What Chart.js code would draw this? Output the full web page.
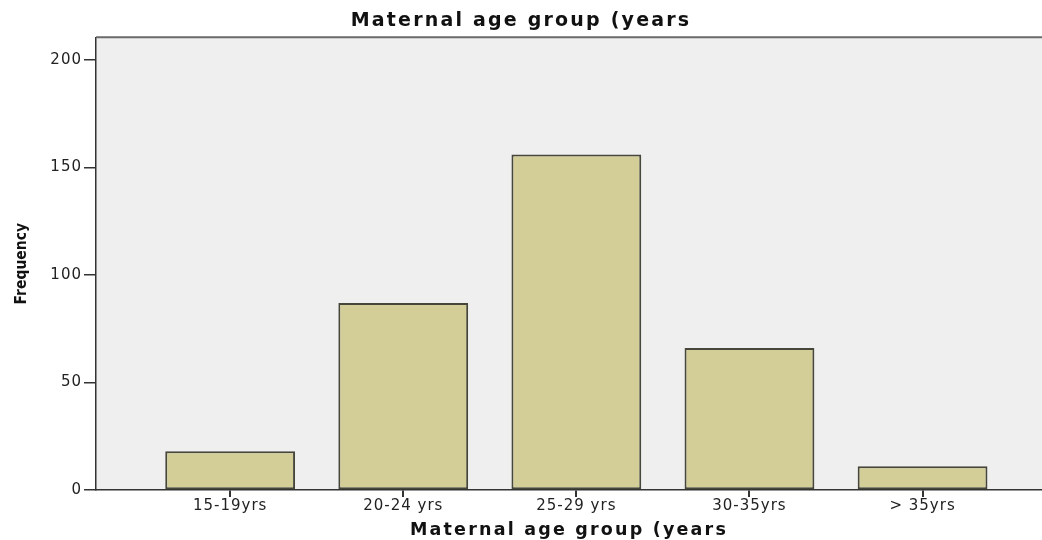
<!DOCTYPE html>
<html>
<head>
<meta charset="utf-8">
<script src="https://cdn.jsdelivr.net/npm/chart.js@4/dist/chart.umd.min.js"></script>
<style>
  html, body { margin: 0; padding: 0; background: #ffffff; }
  #wrap { width: 1042px; height: 540px; position: relative; }
</style>
</head>
<body>
<div id="wrap"><canvas id="c"></canvas></div>
<script>
// ---- data ----
const categories = ['15-19yrs', '20-24 yrs', '25-29 yrs', '30-35yrs', '> 35yrs'];
const frequency = [18, 87, 156, 66, 11];
const yTickValues = [0, 50, 100, 150, 200];
const chartTitle = 'Maternal age group (years';
const xTitle = 'Maternal age group (years';
const yTitle = 'Frequency';

// widen text a little (the reference text is horizontally stretched)
const spacing = {
  id: 'spacing',
  beforeDraw(chart) {
    const ctx = chart.ctx;
    if (!ctx.__patched) {
      const orig = ctx.fillText;
      ctx.fillText = function (t, x, y, mw) {
        const f = this.font || '';
        if (f.indexOf('Condensed') >= 0) this.letterSpacing = '0px';
        else if (f.indexOf('bold') >= 0) this.letterSpacing = '2.2px';
        else this.letterSpacing = '1px';
        return mw === undefined ? orig.call(this, t, x, y) : orig.call(this, t, x, y, mw);
      };
      ctx.__patched = true;
    }
  }
};

const plotBg = {
  id: 'plotBg',
  beforeDraw(chart) {
    const { ctx, chartArea: a } = chart;
    ctx.save();
    ctx.fillStyle = '#efefef';
    ctx.fillRect(a.left, a.top, a.right - a.left, a.bottom - a.top);
    ctx.restore();
  },
  afterDraw(chart) {
    const { ctx, chartArea: a } = chart;
    ctx.save();
    ctx.strokeStyle = '#6a6a6a';
    ctx.lineWidth = 2;
    ctx.beginPath();
    ctx.moveTo(a.left, a.top);
    ctx.lineTo(a.right, a.top);
    ctx.stroke();
    ctx.restore();
  }
};

const tickFont = { family: "'DejaVu Sans', Verdana, sans-serif", size: 15 };

new Chart(document.getElementById('c'), {
  type: 'bar',
  data: {
    datasets: [{
      label: 'Frequency',
      data: frequency.map((v, i) => ({ x: i, y: v })),
      backgroundColor: '#d3ce98',
      borderColor: '#46463a',
      borderWidth: 2,
      borderSkipped: false,
      barPercentage: 0.75,
      categoryPercentage: 1.0
    }]
  },
  options: {
    responsive: true,
    maintainAspectRatio: false,
    animation: false,
    layout: { padding: 0 },
    plugins: {
      legend: { display: false },
      tooltip: { enabled: false },
      title: {
        display: true,
        text: chartTitle,
        color: '#111',
        font: { family: "'DejaVu Sans', Verdana, sans-serif", size: 19, weight: 'bold', lineHeight: 1.2 },
        padding: { top: 9.5, bottom: 5 }
      }
    },
    scales: {
      x: {
        type: 'linear',
        min: -0.775,
        max: 4.69,
        offset: false,
        afterBuildTicks: (s) => { s.ticks = categories.map((_, i) => ({ value: i })); },
        afterFit: (s) => { s.height = 50; },
        ticks: {
          autoSkip: false,
          maxRotation: 0,
          padding: 0,
          color: '#222',
          font: tickFont,
          callback: (v) => categories[v]
        },
        grid: {
          offset: false,
          drawOnChartArea: false,
          drawTicks: true,
          tickLength: 7,
          tickColor: '#333',
          lineWidth: 2
        },
        border: { display: true, color: '#333', width: 1.5 },
        title: {
          display: true,
          text: xTitle,
          color: '#111',
          font: { family: "'DejaVu Sans', Verdana, sans-serif", size: 17.5, weight: 'bold', lineHeight: 1 },
          padding: { top: 0, bottom: 1 }
        }
      },
      y: {
        min: 0,
        max: 210.5,
        afterBuildTicks: (s) => { s.ticks = yTickValues.map(v => ({ value: v })); },
        afterFit: (s) => { s.width = 96; },
        ticks: {
          padding: 2,
          color: '#222',
          font: tickFont
        },
        grid: {
          drawOnChartArea: false,
          drawTicks: true,
          tickLength: 12,
          tickColor: '#333',
          lineWidth: 1.5
        },
        border: { display: true, color: '#333', width: 1.5 },
        title: {
          display: true,
          text: yTitle,
          color: '#111',
          font: { family: "'DejaVu Sans Condensed', 'Liberation Sans Narrow', sans-serif", size: 15.5, weight: 'bold', lineHeight: 1 },
          padding: { top: 14, bottom: 0 }
        }
      }
    }
  },
  plugins: [spacing, plotBg]
});
</script>
</body>
</html>
